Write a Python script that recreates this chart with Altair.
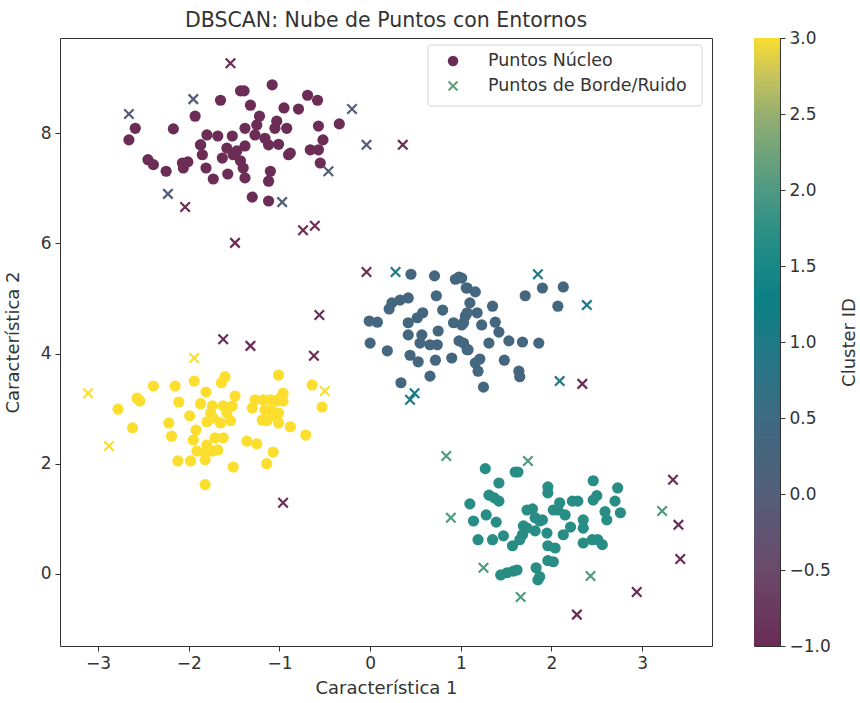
import altair as alt
import numpy as np
import pandas as pd

FONT = "DejaVu Sans"
INK = "#333333"

# ---- core points, one list pair per cluster ----
core_c0_x = [-1.65, -1.93, -2.17, -2.59, -2.66, -1.80, -1.68, -1.52, -1.87, -1.43,
             -1.58, -1.08, -1.39, -1.32, -0.69, -0.58, -0.95, -0.79, -1.22, -1.03,
             -0.92, -1.05, -1.38, -1.25, -1.27, -0.57, -0.34, -0.52, -1.16, -1.01,
             -1.12, -1.38, -0.66, -0.57, -0.88, -1.47, -2.45, -2.39, -2.25, -2.07,
             -2.01, -2.06, -1.85, -1.81, -1.73, -1.57, -1.63, -1.51, -1.43, -1.40,
             -1.38, -1.10, -1.12, -1.30, -1.12, -0.90, -0.55, -1.87]
core_c0_y = [8.60, 8.31, 8.08, 8.09, 7.88, 7.97, 7.95, 7.95, 7.79, 8.77,
             7.73, 8.88, 8.77, 8.51, 8.69, 8.60, 8.46, 8.44, 8.31, 8.22,
             8.09, 8.09, 8.09, 8.15, 7.97, 8.13, 8.17, 7.88, 7.91, 7.80,
             7.79, 7.77, 7.70, 7.70, 7.64, 7.68, 7.52, 7.43, 7.31, 7.46,
             7.48, 7.37, 7.61, 7.37, 7.17, 7.26, 7.55, 7.61, 7.50, 7.37,
             7.19, 7.31, 7.13, 6.84, 6.77, 7.61, 7.46, 7.79]

core_c1_x = [0.45, 0.71, 0.94, 0.98, 1.06, 0.73, 0.42, 0.33, 0.24, 0.21,
             0.80, 0.58, 0.52, -0.01, 0.08, 0.42, 0.92, 1.01, 1.07, 0.75,
             0.57, 0.42, 0.55, 0.66, 0.74, 0.00, 0.98, 0.19, 0.44, 0.53,
             0.72, 0.90, 1.07, 0.66, 0.34, 1.01, 1.07, 1.16, 1.10, 1.35,
             1.05, 1.18, 1.03, 1.23, 1.38, 1.42, 1.31, 1.53, 1.68, 1.86,
             1.03, 1.08, 1.21, 1.16, 1.19, 1.48, 1.64, 1.65, 1.25, 1.90,
             2.13, 1.71, 2.07]
core_c1_y = [5.44, 5.41, 5.35, 5.39, 5.19, 5.05, 5.01, 4.97, 4.92, 4.81,
             4.79, 4.74, 4.65, 4.59, 4.57, 4.56, 4.56, 4.52, 4.74, 4.41,
             4.34, 4.34, 4.19, 4.16, 4.16, 4.19, 4.23, 4.05, 3.97, 3.85,
             3.88, 3.92, 4.07, 3.59, 3.47, 5.37, 5.19, 5.12, 4.92, 4.86,
             4.68, 4.74, 4.56, 4.52, 4.57, 4.39, 4.19, 4.23, 4.21, 4.19,
             4.19, 4.07, 3.90, 3.83, 3.68, 3.88, 3.68, 3.58, 3.39, 5.19,
             5.21, 5.05, 4.86]

core_c2_x = [1.27, 1.60, 1.63, 1.42, 1.31, 1.37, 1.42, 1.10, 1.96, 1.96,
             1.28, 1.14, 1.39, 1.73, 1.79, 1.82, 1.87, 1.69, 1.68, 1.73,
             1.82, 1.95, 1.19, 1.35, 1.47, 1.57, 1.65, 1.96, 1.96, 1.44,
             1.51, 1.58, 1.62, 1.83, 1.85, 2.46, 2.73, 2.50, 2.46, 2.70,
             2.09, 2.23, 2.29, 2.02, 2.07, 2.15, 2.59, 2.61, 2.76, 1.90,
             2.35, 2.21, 2.13, 2.35, 2.35, 2.45, 2.51, 2.56, 2.04, 2.02,
             1.87]
core_c2_y = [1.91, 1.85, 1.85, 1.65, 1.43, 1.38, 1.32, 1.27, 1.58, 1.47,
             1.07, 0.96, 0.94, 1.16, 1.18, 1.02, 0.96, 0.87, 0.71, 0.83,
             0.78, 0.74, 0.62, 0.62, 0.69, 0.51, 0.62, 0.51, 0.24, -0.02,
             0.02, 0.05, 0.07, 0.11, -0.11, 1.69, 1.56, 1.42, 1.34, 1.32,
             1.29, 1.32, 1.32, 1.16, 1.16, 1.07, 1.13, 0.98, 1.11, 0.98,
             0.98, 0.85, 0.71, 0.83, 0.56, 0.62, 0.62, 0.53, 0.47, 0.22,
             -0.05]

core_c3_x = [-2.39, -2.15, -1.94, -1.81, -2.57, -2.54, -2.78, -2.11, -1.87, -1.99,
             -2.22, -1.80, -2.62, -1.92, -2.19, -1.95, -1.91, -1.82, -2.12, -1.98,
             -1.82, -1.82, -0.64, -0.53, -1.01, -1.60, -1.64, -1.49, -0.96, -0.99,
             -1.27, -1.18, -1.10, -1.03, -0.96, -1.30, -1.74, -1.62, -1.52, -1.16,
             -1.08, -1.01, -1.07, -1.58, -1.76, -1.73, -1.19, -1.14, -1.01, -1.65,
             -1.54, -0.88, -0.71, -1.71, -1.62, -1.36, -1.25, -1.80, -1.74, -1.68,
             -1.07, -1.14, -1.51]
core_c3_y = [3.41, 3.41, 3.50, 3.30, 3.19, 3.14, 2.99, 3.12, 3.09, 2.87,
             2.74, 2.76, 2.65, 2.61, 2.50, 2.43, 2.23, 2.20, 2.05, 2.05,
             2.07, 1.62, 3.43, 3.03, 3.61, 3.58, 3.47, 3.23, 3.28, 3.19,
             3.16, 3.16, 3.16, 3.14, 3.14, 3.01, 3.05, 3.05, 3.05, 2.98,
             2.96, 2.92, 2.87, 2.92, 2.92, 2.83, 2.79, 2.78, 2.74, 2.74,
             2.78, 2.67, 2.52, 2.47, 2.47, 2.41, 2.36, 2.34, 2.23, 2.25,
             2.21, 2.00, 1.94]

# ---- border points (cluster 0..3) and noise (-1) ----
edge_c0_x = [-2.66, -1.95, -0.20, -0.04, -0.46, -2.23, -0.97]
edge_c0_y = [8.35, 8.62, 8.44, 7.79, 7.31, 6.90, 6.75]
edge_c1_x = [0.28, 0.49, 0.44, 1.85, 2.39, 2.09]
edge_c1_y = [5.48, 3.28, 3.16, 5.44, 4.88, 3.50]
edge_c2_x = [0.84, 1.74, 0.89, 1.25, 1.66, 3.22, 2.43]
edge_c2_y = [2.14, 2.05, 1.02, 0.11, -0.42, 1.14, -0.04]
edge_c3_x = [-1.94, -3.11, -2.88, -0.50]
edge_c3_y = [3.92, 3.28, 2.32, 3.32]
noise_x = [-1.54, 0.36, -2.04, -0.74, -0.61, -1.49, -0.04, 2.34, -1.62, -1.32,
           -0.56, -0.62, -0.96, 3.34, 3.40, 3.42, 2.94, 2.28]
noise_y = [9.27, 7.79, 6.66, 6.24, 6.32, 6.01, 5.48, 3.45, 4.26, 4.14,
           4.70, 3.96, 1.29, 1.71, 0.89, 0.27, -0.33, -0.74]

legend_labels = ["Puntos Núcleo", "Puntos de Borde/Ruido"]
cbar_ticks = [-1.0, -0.5, 0.0, 0.5, 1.0, 1.5, 2.0, 2.5, 3.0]

# colour ramp of the colorbar (value -> colour)
ramp_domain = [-1.0, -0.5, 0.0, 0.5, 1.0, 1.25, 1.5, 1.75, 2.0, 2.25, 2.5, 2.75, 3.0]
ramp_range = ["#6b2d56", "#6b4a6a", "#535f7a", "#3d6b82", "#1e7a87", "#0c7f85",
              "#198886", "#2f9085", "#4f9a82", "#71a47a", "#98b06f", "#c8c45a",
              "#fbde2e"]

core = pd.concat([
    pd.DataFrame({"x": xs, "y": ys, "cluster": k})
    for k, (xs, ys) in enumerate([(core_c0_x, core_c0_y), (core_c1_x, core_c1_y),
                                  (core_c2_x, core_c2_y), (core_c3_x, core_c3_y)])
], ignore_index=True)
# core markers are normalised over their own label range 0..3
core["tone"] = -1.0 + core["cluster"] * 4.0 / 3.0

edge = pd.concat([
    pd.DataFrame({"x": xs, "y": ys, "cluster": k})
    for k, (xs, ys) in [(-1, (noise_x, noise_y)), (0, (edge_c0_x, edge_c0_y)),
                        (1, (edge_c1_x, edge_c1_y)), (2, (edge_c2_x, edge_c2_y)),
                        (3, (edge_c3_x, edge_c3_y))]
], ignore_index=True)
edge["tone"] = edge["cluster"].astype(float)

ramp = alt.Scale(domain=ramp_domain, range=ramp_range, interpolate="rgb")
xs = alt.Scale(domain=[-3.42, 3.77], nice=False, zero=False)
ys = alt.Scale(domain=[-1.31, 9.73], nice=False, zero=False)

X_SHAPE = "M-1,-1L1,1M1,-1L-1,1"

x_enc = alt.X("x:Q", scale=xs, title="Característica 1",
              axis=alt.Axis(values=[-3, -2, -1, 0, 1, 2, 3], format="d",
                            titlePadding=8))
y_enc = alt.Y("y:Q", scale=ys, title="Característica 2",
              axis=alt.Axis(values=[0, 2, 4, 6, 8], format="d", titlePadding=18))

core_layer = alt.Chart(core).mark_circle(size=125, opacity=1).encode(
    x=x_enc, y=y_enc, color=alt.Color("tone:Q", scale=ramp, legend=None)
)
edge_layer = alt.Chart(edge).mark_point(
    shape=X_SHAPE, size=90, strokeWidth=2.2, filled=False, opacity=1
).encode(x="x:Q", y="y:Q", color=alt.Color("tone:Q", scale=ramp, legend=None))

# legend box drawn inside the plot area
leg = pd.DataFrame({"label": legend_labels})
leg_box = alt.Chart(leg.head(1)).mark_rect(
    fill="white", stroke="#cccccc", strokeWidth=1, cornerRadius=3, opacity=0.85
).encode(x=alt.value(368), x2=alt.value(642), y=alt.value(7), y2=alt.value(68))
leg_dot = alt.Chart(leg.head(1)).mark_circle(
    size=110, color="#6b2d56", opacity=1
).encode(x=alt.value(393), y=alt.value(23))
leg_x = alt.Chart(leg.head(1)).mark_point(
    shape=X_SHAPE, size=80, strokeWidth=2.2, filled=False, color="#63a27b", opacity=1
).encode(x=alt.value(393), y=alt.value(48))
leg_text1 = alt.Chart(leg.iloc[[0]]).mark_text(
    align="left", baseline="middle", font=FONT, fontSize=17.5, color=INK
).encode(x=alt.value(428), y=alt.value(23), text="label:N")
leg_text2 = alt.Chart(leg.iloc[[1]]).mark_text(
    align="left", baseline="middle", font=FONT, fontSize=17.5, color=INK
).encode(x=alt.value(428), y=alt.value(48), text="label:N")

main = alt.layer(core_layer, edge_layer, leg_box, leg_dot, leg_x,
                 leg_text1, leg_text2).properties(
    width=652, height=608,
    title=alt.TitleParams("DBSCAN: Nube de Puntos con Entornos", font=FONT,
                          fontSize=20.5, fontWeight="normal", color=INK, offset=7),
)

# colorbar built from a fine ramp of values (slightly overlapping strips)
v = np.linspace(-1.0, 3.0, 241)
step = v[1] - v[0]
bar = pd.DataFrame({"v": v[:-1], "v2": np.minimum(v[:-1] + 2 * step, 3.0)})
cbar = alt.Chart(bar).mark_rect(strokeWidth=0).encode(
    x=alt.value(0), x2=alt.value(26),
    y=alt.Y("v:Q", scale=alt.Scale(domain=[-1, 3], nice=False, zero=False),
            axis=alt.Axis(orient="right", values=cbar_ticks, format=".1f",
                          title="Cluster ID", titleAngle=270, titlePadding=28)),
    y2="v2:Q",
    color=alt.Color("v:Q", scale=ramp, legend=None),
).properties(width=26, height=608)

chart = alt.hconcat(main, cbar, spacing=40).configure(
    font=FONT, padding={"left": 3, "top": 10, "right": 0, "bottom": 0}
).configure_view(stroke=INK, strokeWidth=1).configure_axis(
    labelFont=FONT, titleFont=FONT, labelFontSize=17, titleFontSize=18,
    labelColor=INK, titleColor=INK, tickColor=INK, domainColor=INK,
    grid=False, tickSize=5, labelPadding=4, titleFontWeight="normal",
    domain=False,
).configure_scale(continuousPadding=0)

chart.save("out.html", embed_options={"renderer": "svg", "actions": False})
